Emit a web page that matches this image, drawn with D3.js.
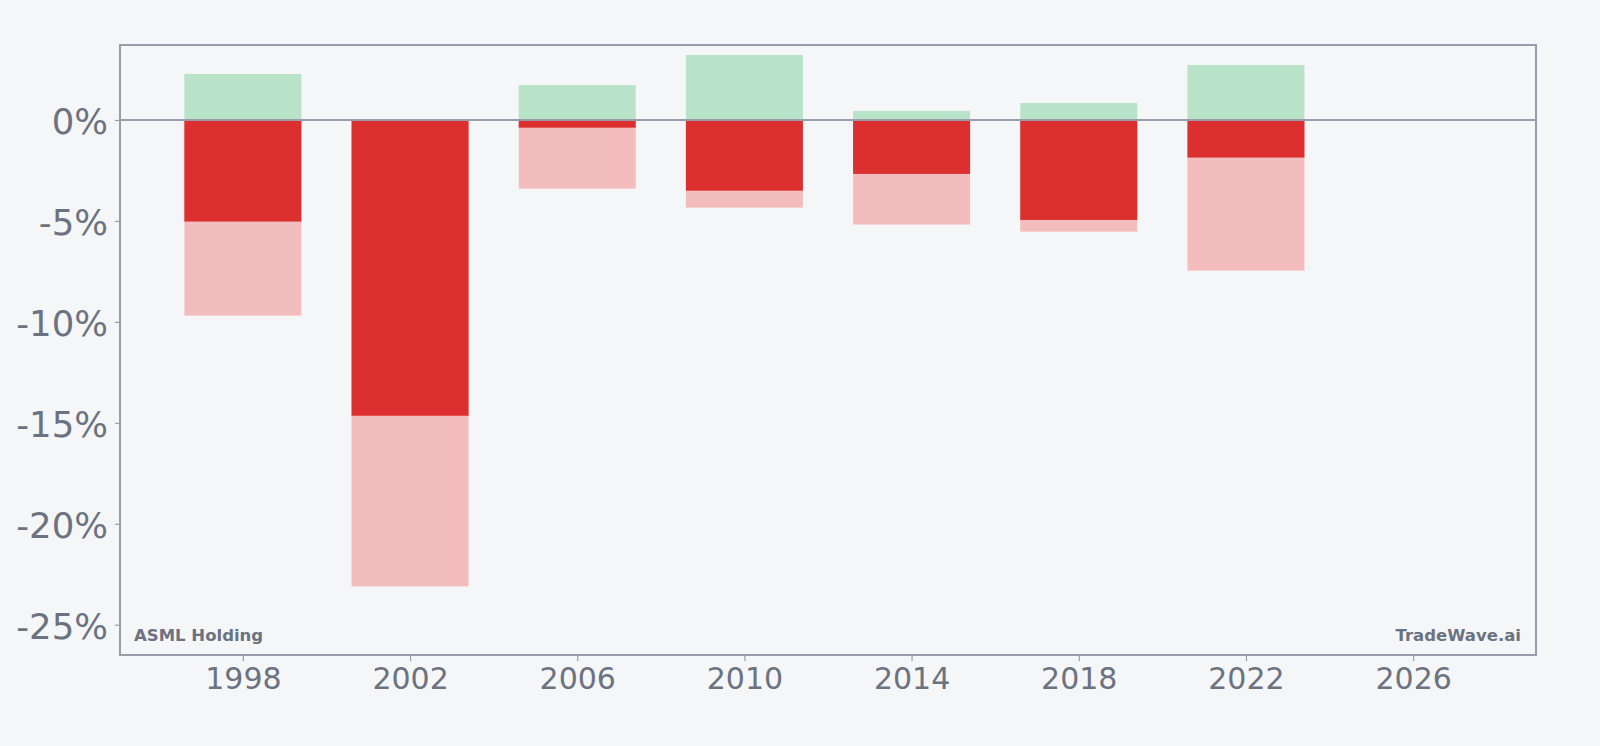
<!DOCTYPE html>
<html>
<head>
<meta charset="utf-8">
<script src="https://cdn.jsdelivr.net/npm/d3@7"></script>
<style>
  html, body { margin: 0; padding: 0; background: #f5f6f8; }
  svg { display: block; }
  text { font-family: "DejaVu Sans", sans-serif; }
</style>
</head>
<body>
<svg id="chart" width="1600" height="746"></svg>
<script>
const years = [1998, 2002, 2006, 2010, 2014, 2018, 2022];
const gain = [2.28, 0, 1.73, 3.22, 0.45, 0.84, 2.72];
const mainLoss = [-5.03, -14.65, -0.38, -3.50, -2.67, -4.95, -1.86];
const maxLoss = [-9.69, -23.1, -3.40, -4.34, -5.18, -5.53, -7.46];
const xTicks = [1998, 2002, 2006, 2010, 2014, 2018, 2022, 2026];
const yTicks = [0, -5, -10, -15, -20, -25];
const leftLabel = "ASML Holding";
const rightLabel = "TradeWave.ai";

const W = 1600, H = 746;
const m = {left: 120, right: 64, top: 45, bottom: 91};
const svg = d3.select("#chart");
const textColor = "#6b7280";
const lineColor = "#9a9cab";

const x = d3.scaleLinear().domain([1995.06, 2028.94]).range([m.left, W - m.right]);
const y = d3.scaleLinear().domain([-26.5, 3.715]).range([H - m.bottom, m.top]);
const barW = 2.8;

const rows = years.map((yr, i) => ({yr, gain: gain[i], main: mainLoss[i], max: maxLoss[i]}));

const g = svg.append("g");
function bars(cls, key, color) {
  g.selectAll("rect." + cls).data(rows).join("rect")
    .attr("class", cls)
    .attr("x", d => x(d.yr - barW / 2))
    .attr("width", d => x(d.yr + barW / 2) - x(d.yr - barW / 2))
    .attr("y", d => Math.min(y(0), y(d[key])))
    .attr("height", d => Math.abs(y(d[key]) - y(0)))
    .attr("fill", color);
}
bars("gain", "gain", "#b8e3c8");
bars("max", "max", "#f4bdbd");
bars("main", "main", "#dc3030");

// zero line
svg.append("line")
  .attr("x1", m.left).attr("x2", W - m.right)
  .attr("y1", y(0)).attr("y2", y(0))
  .attr("stroke", lineColor).attr("stroke-width", 2);

// axes
const yAxis = d3.axisLeft(y).tickValues(yTicks).tickFormat(d => d + "%").tickSize(5).tickPadding(7);
const xAxis = d3.axisBottom(x).tickValues(xTicks).tickFormat(d3.format("d")).tickSize(6).tickPadding(6);

const ya = svg.append("g").attr("transform", `translate(${m.left},0)`).call(yAxis);
const xa = svg.append("g").attr("transform", `translate(0,${H - m.bottom})`).call(xAxis);
[ya, xa].forEach(a => {
  a.select(".domain").remove();
  a.selectAll(".tick line").attr("stroke", lineColor).attr("stroke-width", 1.2);
  a.selectAll(".tick text").attr("fill", textColor).attr("font-family", "DejaVu Sans");
});
ya.selectAll(".tick text").attr("font-size", 35.5).attr("dy", "0.39em");
xa.selectAll(".tick text").attr("font-size", 30).attr("dy", "0.73em");

// frame
svg.append("rect")
  .attr("x", m.left).attr("y", m.top)
  .attr("width", W - m.left - m.right).attr("height", H - m.top - m.bottom)
  .attr("fill", "none").attr("stroke", lineColor).attr("stroke-width", 2);

svg.append("text").attr("x", m.left + 14).attr("y", H - m.bottom - 14)
  .attr("font-size", 16.5).attr("font-weight", "bold").attr("fill", textColor)
  .text(leftLabel);
svg.append("text").attr("x", W - m.right - 15).attr("y", H - m.bottom - 14)
  .attr("text-anchor", "end")
  .attr("font-size", 16.5).attr("font-weight", "bold").attr("fill", textColor)
  .text(rightLabel);
</script>
</body>
</html>
